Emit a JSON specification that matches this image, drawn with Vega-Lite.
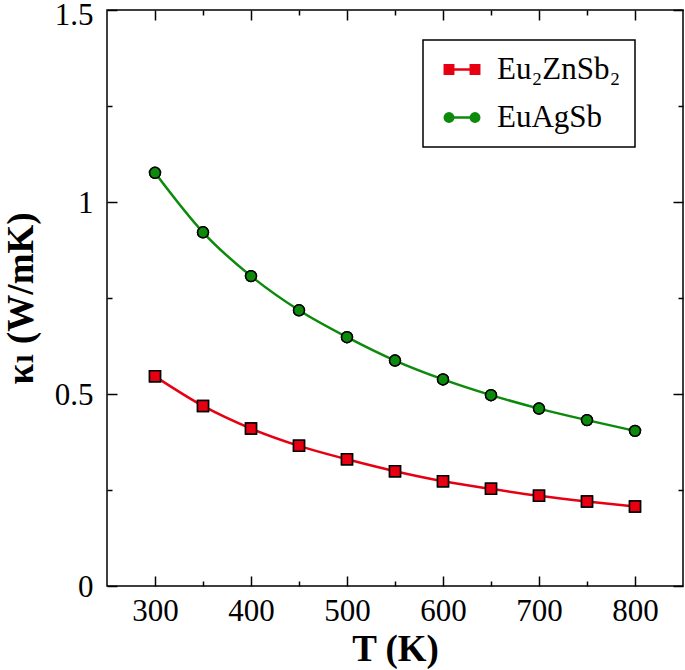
{
  "$schema": "https://vega.github.io/schema/vega-lite/v6.json",
  "autosize": "none",
  "width": 576,
  "height": 576,
  "padding": {"left": 107, "top": 10, "right": 2, "bottom": 84},
  "background": "white",
  "config": {
    "view": {"stroke": "black", "strokeWidth": 1.5},
    "axis": {
      "grid": false,
      "domain": false,
      "labelFont": "Liberation Serif, DejaVu Serif",
      "labelFontSize": 31,
      "labelColor": "black",
      "titleFont": "Liberation Serif, DejaVu Serif",
      "titleFontSize": 37,
      "titleFontWeight": "bold",
      "titleColor": "black",
      "tickColor": "black",
      "tickWidth": 1.5
    },
    "legend": {"strokeWidth": 1.5}
  },
  "data": {
    "values": [
      {"T": 300, "k": 0.546, "s": "Eu₂ZnSb₂"},
      {"T": 350, "k": 0.469, "s": "Eu₂ZnSb₂"},
      {"T": 400, "k": 0.410, "s": "Eu₂ZnSb₂"},
      {"T": 450, "k": 0.365, "s": "Eu₂ZnSb₂"},
      {"T": 500, "k": 0.330, "s": "Eu₂ZnSb₂"},
      {"T": 550, "k": 0.299, "s": "Eu₂ZnSb₂"},
      {"T": 600, "k": 0.273, "s": "Eu₂ZnSb₂"},
      {"T": 650, "k": 0.253, "s": "Eu₂ZnSb₂"},
      {"T": 700, "k": 0.235, "s": "Eu₂ZnSb₂"},
      {"T": 750, "k": 0.220, "s": "Eu₂ZnSb₂"},
      {"T": 800, "k": 0.207, "s": "Eu₂ZnSb₂"},
      {"T": 300, "k": 1.076, "s": "EuAgSb"},
      {"T": 350, "k": 0.921, "s": "EuAgSb"},
      {"T": 400, "k": 0.807, "s": "EuAgSb"},
      {"T": 450, "k": 0.718, "s": "EuAgSb"},
      {"T": 500, "k": 0.648, "s": "EuAgSb"},
      {"T": 550, "k": 0.587, "s": "EuAgSb"},
      {"T": 600, "k": 0.538, "s": "EuAgSb"},
      {"T": 650, "k": 0.497, "s": "EuAgSb"},
      {"T": 700, "k": 0.462, "s": "EuAgSb"},
      {"T": 750, "k": 0.432, "s": "EuAgSb"},
      {"T": 800, "k": 0.404, "s": "EuAgSb"}
    ]
  },
  "layer": [
    {
      "mark": {"type": "line", "interpolate": "monotone", "strokeWidth": 2.5},
      "encoding": {
        "x": {
          "field": "T", "type": "quantitative",
          "scale": {"domain": [250, 850], "nice": false, "zero": false},
          "axis": {
            "orient": "bottom",
            "title": "T (K)",
            "values": [300, 350, 400, 450, 500, 550, 600, 650, 700, 750, 800],
            "labelExpr": "datum.value % 100 == 0 ? datum.label : ''",
            "tickSize": {"condition": {"test": "datum.value % 100 == 0", "value": -10}, "value": -5},
            "labelPadding": 20,
            "titlePadding": 5
          }
        },
        "y": {
          "field": "k", "type": "quantitative",
          "scale": {"domain": [0, 1.5], "nice": false},
          "axis": {
            "orient": "left",
            "title": "κₗ (W/mK)",
            "values": [0, 0.25, 0.5, 0.75, 1, 1.25, 1.5],
            "labelExpr": "datum.value % 0.5 == 0 ? '' + datum.value : ''",
            "tickSize": {"condition": {"test": "datum.value % 0.5 == 0", "value": -10}, "value": -5},
            "labelOffset": {"condition": {"test": "datum.value == 1.5", "value": 5}, "value": 1},
            "labelPadding": 24,
            "titlePadding": 14
          }
        },
        "stroke": {
          "field": "s", "type": "nominal",
          "scale": {"domain": ["Eu₂ZnSb₂", "EuAgSb"], "range": ["#e60012", "#0b8a0b"]},
          "legend": {
            "orient": "none", "legendX": 316, "legendY": 30,
            "title": null,
            "padding": 14, "rowPadding": 16,
            "labelFont": "Liberation Serif, DejaVu Serif", "labelFontSize": 31, "labelColor": "black",
            "labelOffset": 22,
            "symbolType": "stroke", "symbolSize": 676, "symbolStrokeWidth": 2.5, "symbolOffset": 7,
            "strokeColor": "black"
          }
        }
      }
    },
    {
      "mark": {"type": "point", "filled": true, "size": 120, "stroke": "black", "strokeWidth": 1.5, "opacity": 1},
      "encoding": {
        "x": {
          "field": "T", "type": "quantitative",
          "scale": {"domain": [250, 850], "nice": false, "zero": false},
          "axis": {
            "orient": "top", "title": null, "labels": false,
            "values": [300, 350, 400, 450, 500, 550, 600, 650, 700, 750, 800],
            "tickSize": {"condition": {"test": "datum.value % 100 == 0", "value": -10}, "value": -5}
          }
        },
        "y": {
          "field": "k", "type": "quantitative",
          "scale": {"domain": [0, 1.5], "nice": false},
          "axis": {
            "orient": "right", "title": null, "labels": false,
            "values": [0, 0.25, 0.5, 0.75, 1, 1.25, 1.5],
            "tickSize": {"condition": {"test": "datum.value % 0.5 == 0", "value": -10}, "value": -5}
          }
        },
        "fill": {
          "field": "s", "type": "nominal",
          "scale": {"domain": ["Eu₂ZnSb₂", "EuAgSb"], "range": ["#e60012", "#0b8a0b"]},
          "legend": {
            "orient": "none", "legendX": 316, "legendY": 30, "title": null,
            "padding": 14, "rowPadding": 16,
            "labelFont": "Liberation Serif, DejaVu Serif", "labelFontSize": 31, "labelExpr": "''",
            "symbolSize": 120, "symbolStrokeColor": "black", "symbolStrokeWidth": 1.5, "symbolOffset": -3.5
          }
        },
        "shape": {
          "field": "s", "type": "nominal",
          "scale": {"domain": ["Eu₂ZnSb₂", "EuAgSb"], "range": ["square", "circle"]},
          "legend": {
            "orient": "none", "legendX": 316, "legendY": 30, "title": null,
            "padding": 14, "rowPadding": 16,
            "labelFont": "Liberation Serif, DejaVu Serif", "labelFontSize": 31, "labelExpr": "''",
            "symbolSize": 120, "symbolStrokeColor": "black", "symbolStrokeWidth": 1.5, "symbolOffset": -3.5
          }
        }
      }
    },
    {
      "mark": {"type": "point", "filled": true, "size": 120, "stroke": "black", "strokeWidth": 1.5, "opacity": 1},
      "encoding": {
        "x": {"field": "T", "type": "quantitative", "scale": {"domain": [250, 850], "nice": false, "zero": false}, "axis": null},
        "y": {"field": "k", "type": "quantitative", "scale": {"domain": [0, 1.5], "nice": false}, "axis": null},
        "fill": {
          "field": "s", "type": "nominal",
          "scale": {"domain": ["Eu₂ZnSb₂", "EuAgSb"], "range": ["#e60012", "#0b8a0b"]},
          "legend": {
            "orient": "none", "legendX": 316, "legendY": 30, "title": null,
            "padding": 14, "rowPadding": 16,
            "labelFont": "Liberation Serif, DejaVu Serif", "labelFontSize": 31, "labelExpr": "''",
            "symbolSize": 120, "symbolStrokeColor": "black", "symbolStrokeWidth": 1.5, "symbolOffset": 22.5
          }
        },
        "shape": {
          "field": "s", "type": "nominal",
          "scale": {"domain": ["Eu₂ZnSb₂", "EuAgSb"], "range": ["square", "circle"]},
          "legend": {
            "orient": "none", "legendX": 316, "legendY": 30, "title": null,
            "padding": 14, "rowPadding": 16,
            "labelFont": "Liberation Serif, DejaVu Serif", "labelFontSize": 31, "labelExpr": "''",
            "symbolSize": 120, "symbolStrokeColor": "black", "symbolStrokeWidth": 1.5, "symbolOffset": 22.5
          }
        }
      }
    }
  ],
  "resolve": {
    "scale": {"fill": "independent", "shape": "independent"},
    "legend": {"fill": "independent", "shape": "independent", "stroke": "independent"},
    "axis": {"x": "independent", "y": "independent"}
  }
}
